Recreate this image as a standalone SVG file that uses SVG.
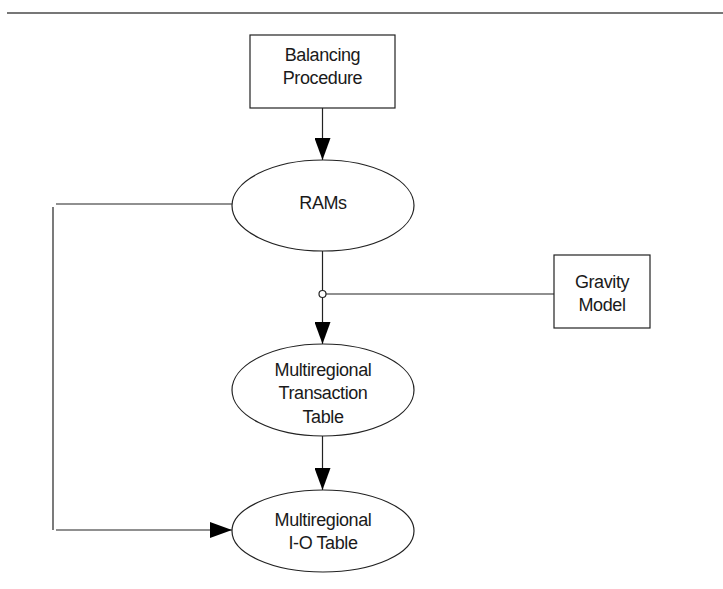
<svg xmlns="http://www.w3.org/2000/svg" width="723" height="589" viewBox="0 0 723 589">
<style>
.n{fill:#fff;stroke:#222;stroke-width:1.2}
.t{font-family:"Liberation Sans",Arial,sans-serif;font-size:18px;letter-spacing:-0.4px;fill:#1a1a1a;text-anchor:middle}
.c{fill:none;stroke:#222;stroke-width:1.2}
</style>
<defs>
<marker id="ah" markerWidth="22" markerHeight="16" refX="22" refY="8" viewBox="0 0 22 16" markerUnits="userSpaceOnUse" orient="auto">
<path d="M0,0 L22,8 L0,16 Z" fill="#000"/>
</marker>
</defs>
<rect width="723" height="589" fill="#fff"/>
<line x1="7" y1="13" x2="723" y2="13" stroke="#777" stroke-width="2"/>
<g id="connectors">
<line class="c" x1="322.5" y1="108" x2="322.5" y2="160" marker-end="url(#ah)"/>
<line class="c" x1="322.5" y1="251" x2="322.5" y2="290.5"/>
<line class="c" x1="322.5" y1="297.5" x2="322.5" y2="344" marker-end="url(#ah)"/>
<line class="c" x1="326" y1="294" x2="554" y2="294"/>
<circle cx="322.5" cy="294" r="3.5" fill="#fff" stroke="#222" stroke-width="1.2"/>
<line class="c" x1="322.5" y1="436" x2="322.5" y2="490" marker-end="url(#ah)"/>
<line class="c" x1="232" y1="204" x2="56" y2="204"/>
<line class="c" x1="53" y1="207" x2="53" y2="530"/>
<line class="c" x1="56" y1="530" x2="232" y2="530" marker-end="url(#ah)"/>
</g>
<g id="balancing">
<rect class="n" x="250" y="35" width="145" height="73"/>
<text class="t" x="322.5" y="61">Balancing</text>
<text class="t" x="322.5" y="84">Procedure</text>
</g>
<g id="rams">
<ellipse class="n" cx="323" cy="205.5" rx="91" ry="45.5"/>
<text class="t" x="323" y="209">RAMs</text>
</g>
<g id="gravity">
<rect class="n" x="554" y="255" width="96" height="73"/>
<text class="t" x="602" y="288">Gravity</text>
<text class="t" x="602" y="311">Model</text>
</g>
<g id="transaction">
<ellipse class="n" cx="323" cy="390" rx="91" ry="46"/>
<text class="t" x="323" y="376">Multiregional</text>
<text class="t" x="323" y="399">Transaction</text>
<text class="t" x="323" y="423">Table</text>
</g>
<g id="io">
<ellipse class="n" cx="323" cy="531" rx="91" ry="41"/>
<text class="t" x="323" y="526">Multiregional</text>
<text class="t" x="323" y="549">I-O Table</text>
</g>
</svg>
